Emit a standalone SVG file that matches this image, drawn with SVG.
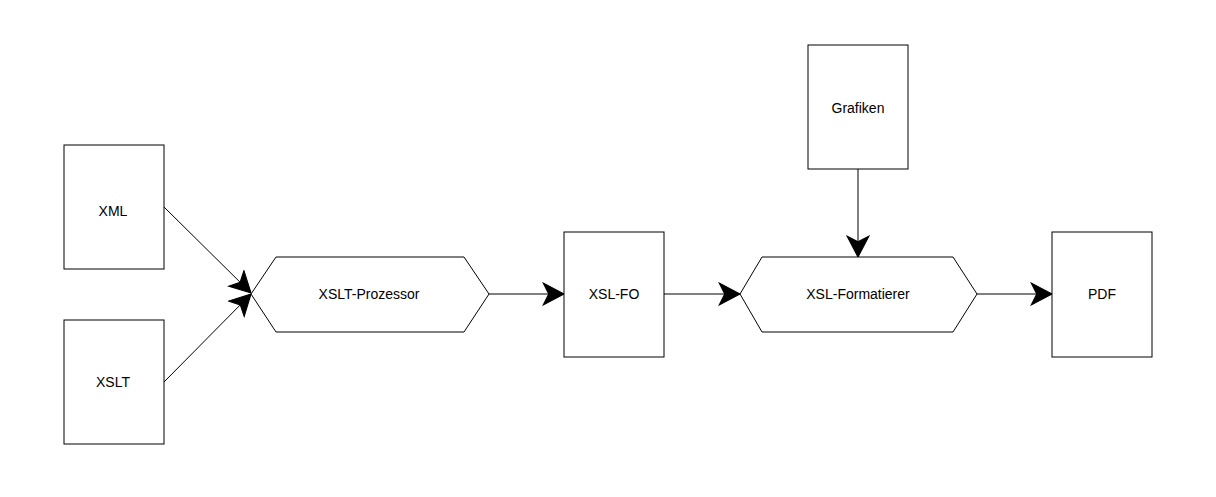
<svg xmlns="http://www.w3.org/2000/svg" width="1216" height="497" viewBox="0 0 1216 497">
<defs>
<style>
.n{fill:#fff;stroke:#000;stroke-width:1}
.t{font-family:"Liberation Sans",Arial,sans-serif;font-size:14px;fill:#000;text-anchor:middle;dominant-baseline:central}
.e{fill:none;stroke:#000;stroke-width:1}
</style>
<marker id="ah" markerUnits="userSpaceOnUse" markerWidth="24" markerHeight="24" viewBox="-20 -11 22 22" refX="0" refY="0" orient="auto">
<path d="M0,0 L-19,-10 L-14,0 L-19,10 Z" fill="#000" stroke="#000" stroke-width="1"/>
</marker>
</defs>
<rect width="1216" height="497" fill="#fff"/>
<g id="connectors">
<path class="e" d="M164,207 L251,293" marker-end="url(#ah)"/>
<path class="e" d="M164,382 L251,294" marker-end="url(#ah)"/>
<path class="e" d="M489,294 L564,294" marker-end="url(#ah)"/>
<path class="e" d="M664,294 L740,294" marker-end="url(#ah)"/>
<path class="e" d="M858,169 L858,257" marker-end="url(#ah)"/>
<path class="e" d="M977,294 L1052,294" marker-end="url(#ah)"/>
</g>
<g id="xml"><rect class="n" x="64" y="145" width="100" height="124"/><text class="t" x="113" y="211">XML</text></g>
<g id="xslt"><rect class="n" x="64" y="320" width="100" height="124"/><text class="t" x="113" y="382">XSLT</text></g>
<g id="xslt-prozessor"><path class="n" d="M251,294 L276,257 L464,257 L489,294 L464,332 L276,332 Z"/><text class="t" x="369" y="294">XSLT-Prozessor</text></g>
<g id="xsl-fo"><rect class="n" x="564" y="232" width="100" height="125"/><text class="t" x="614" y="294">XSL-FO</text></g>
<g id="grafiken"><rect class="n" x="808" y="45" width="100" height="124"/><text class="t" x="858" y="108">Grafiken</text></g>
<g id="xsl-formatierer"><path class="n" d="M740,294 L762,257 L953,257 L977,294 L953,332 L762,332 Z"/><text class="t" x="858" y="294">XSL-Formatierer</text></g>
<g id="pdf"><rect class="n" x="1052" y="232" width="100" height="125"/><text class="t" x="1102" y="294">PDF</text></g>
</svg>
